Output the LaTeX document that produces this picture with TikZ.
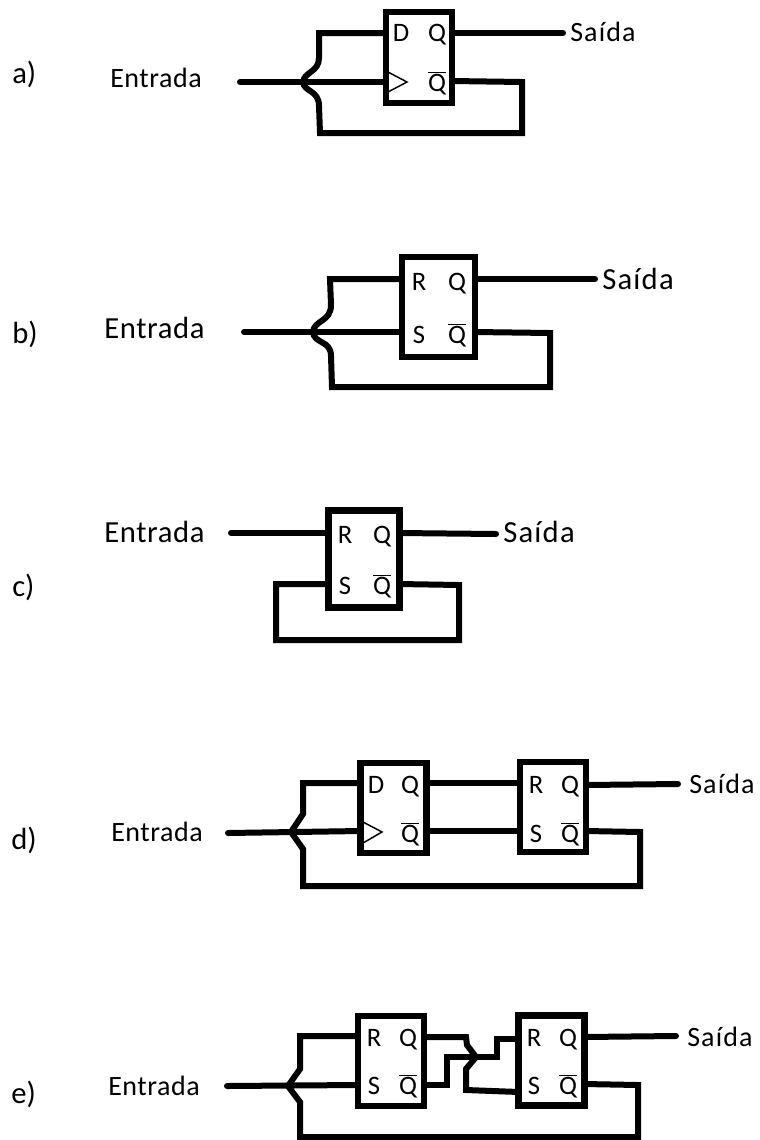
\documentclass[tikz,border=0pt]{standalone}
\usepackage{fontspec}
\setmainfont{Carlito}
\newfontfamily\spaced[LetterSpace=4]{Carlito}
\newfontfamily\slight[LetterSpace=2]{Carlito}
\tikzset{
  x=0.75pt,y=-0.75pt,
  wire/.style={draw=black,line width=4.5pt,line cap=round,line join=miter},
  ff/.style={draw=black,line width=5pt,fill=white,inner sep=0pt,minimum width=#1*0.75pt,minimum height=94*0.75pt},
  ff/.default=68,
  clk/.style={draw=black,line width=1.1pt,line join=miter},
  pinlab/.style={anchor=base,inner sep=0pt,font=\fontsize{20pt}{22pt}\selectfont},
  tag/.style={anchor=base west,inner sep=0pt,font=\fontsize{23pt}{26pt}\selectfont},
  lab/.style={anchor=base west,inner sep=0pt,font=\fontsize{21pt}{24pt}\selectfont\slight},
  labb/.style={anchor=base west,inner sep=0pt,font=\fontsize{23pt}{26pt}\selectfont\slight},
  outlab/.style={anchor=base west,inner sep=0pt,font=\fontsize{21pt}{24pt}\selectfont\spaced},
  outlabb/.style={anchor=base west,inner sep=0pt,font=\fontsize{23pt}{26pt}\selectfont\spaced},
}
\newcommand{\qbar}{$\overline{\hbox{Q}}$}
\begin{document}
\begin{tikzpicture}
\useasboundingbox (0,0) rectangle (760,1140);
% ---------- a
\coordinate (a-in) at (240,82);
\coordinate (a-o) at (563,33);
\coordinate (a-d) at (386,33);
\coordinate (a-c) at (386,82);
\coordinate (a-q) at (452,33);
\coordinate (a-n) at (452,81);
\draw[wire] (a-in) -- (a-c);
\draw[wire] (a-q) -- (a-o);
\draw[wire] (a-d) -- (319,33) -- (319,58) .. controls (319,72) and (304,72) .. (303,82) .. controls (304,92) and (319,90) .. (319,106) -- (320,133) -- (522,133) -- (522,82) -- (a-n);
\node[ff=66,minimum height=91*0.75pt] (a-box) at (419,57.5) {};
\draw[clk] (388,72) -- (407,82) -- (388,92);
\node[pinlab] (a-D) at (401,41.5) {D};
\node[pinlab] (a-Q) at (437,41.5) {Q};
\node[pinlab] (a-N) at (437,91) {\qbar};
\node[tag] (a-l) at (12,83) {a)};
\node[lab] (a-e) at (110,87) {Entrada};
\node[outlab] (a-s) at (570,41) {Saída};
% ---------- b
\coordinate (b-in) at (244,332);
\coordinate (b-o) at (595,279);
\coordinate (b-r) at (402,279);
\coordinate (b-s) at (402,332);
\coordinate (b-q) at (475,279);
\coordinate (b-n) at (475,332);
\draw[wire] (b-in) -- (b-s);
\draw[wire] (b-q) -- (b-o);
\draw[wire] (b-r) -- (330,279) -- (331,305) .. controls (331,322) and (314,320) .. (313,332) .. controls (314,344) and (331,340) .. (331,356) -- (332,387) -- (550,387) -- (550,333) -- (b-n);
\node[ff=73,minimum height=100*0.75pt] (b-box) at (438.5,307) {};
\node[pinlab] (b-R) at (419,290) {R};
\node[pinlab] (b-Q) at (457,290) {Q};
\node[pinlab] (b-S) at (419,343) {S};
\node[pinlab] (b-N) at (457,343) {\qbar};
\node[tag] (b-l) at (12,343) {b)};
\node[labb] (b-e) at (104,338) {Entrada};
\node[outlabb] (b-t) at (602,289) {Saída};
% ---------- c
\coordinate (c-in) at (231,533);
\coordinate (c-o) at (496,534);
\coordinate (c-r) at (329,533);
\coordinate (c-s) at (329,584);
\coordinate (c-q) at (399,533);
\coordinate (c-n) at (399,584);
\draw[wire] (c-in) -- (c-r);
\draw[wire] (c-q) -- (c-o);
\draw[wire] (c-s) -- (279,584) -- (276,584) -- (276,640) -- (459,640) -- (459,585) -- (c-n);
\node[ff=71,minimum height=97*0.75pt] (c-box) at (364,559) {};
\node[pinlab] (c-R) at (345,543) {R};
\node[pinlab] (c-Q) at (382,543) {Q};
\node[pinlab] (c-S) at (345,594) {S};
\node[pinlab] (c-N) at (382,594) {\qbar};
\node[tag] (c-l) at (12,596) {c)};
\node[labb] (c-e) at (104,542) {Entrada};
\node[outlabb] (c-t) at (503,542) {Saída};
% ---------- d
\coordinate (d-in) at (228,833);
\coordinate (d-o) at (678,784);
\coordinate (d-d) at (361,783);
\coordinate (d-c) at (361,831);
\coordinate (d-q) at (426,783);
\coordinate (d-n) at (426,831);
\coordinate (d-r) at (520,783);
\coordinate (d-s) at (520,831);
\coordinate (d-p) at (586,785);
\coordinate (d-m) at (586,831);
\draw[wire] (d-in) -- (d-c);
\draw[wire] (d-q) -- (d-r);
\draw[wire] (d-n) -- (d-s);
\draw[wire] (d-p) -- (d-o);
\draw[wire] (d-d) -- (303,783) -- (303,814) -- (291,832) -- (303,849) -- (303,886) -- (640,886) -- (640,832) -- (d-m);
\node[ff=66,minimum height=90*0.75pt] (d-box1) at (393.5,808) {};
\node[ff=66,minimum height=90*0.75pt] (d-box2) at (553,807) {};
\draw[clk] (363,822) -- (382,832) -- (363,843);
\node[pinlab] (d-D) at (376,793) {D};
\node[pinlab] (d-Q) at (410,793) {Q};
\node[pinlab] (d-N) at (410,842) {\qbar};
\node[pinlab] (d-R) at (536,793) {R};
\node[pinlab] (d-P) at (570,793) {Q};
\node[pinlab] (d-S) at (536,842) {S};
\node[pinlab] (d-M) at (570,842) {\qbar};
\node[tag] (d-l) at (11,849) {d)};
\node[lab] (d-e) at (111,841) {Entrada};
\node[outlab] (d-t) at (689,793) {Saída};
% ---------- e
\coordinate (e-in) at (227,1086);
\coordinate (e-o) at (676,1036);
\coordinate (e-a) at (358,1036);
\coordinate (e-b) at (358,1085);
\coordinate (e-q) at (424,1037);
\coordinate (e-n) at (424,1085);
\coordinate (e-r) at (519,1039);
\coordinate (e-s) at (519,1092);
\coordinate (e-p) at (584,1037);
\coordinate (e-m) at (584,1084);
\draw[wire] (e-in) -- (e-b);
\draw[wire] (e-p) -- (e-o);
\draw[wire] (e-a) -- (300,1036) -- (300,1069) -- (288,1086) -- (300,1102) -- (300,1137) -- (638,1137) -- (638,1085) -- (e-m);
\draw[wire] (e-q) -- (466,1037) -- (467,1045) -- (476,1057) -- (466,1069) -- (466,1090) -- (e-s);
\draw[wire] (e-n) -- (447,1085) -- (447,1057) -- (497,1057) -- (497,1039) -- (e-r);
\node[ff=66,minimum height=90*0.75pt] (e-box1) at (391,1061) {};
\node[ff=66,minimum height=90*0.75pt] (e-box2) at (551.5,1060.5) {};
\node[pinlab] (e-R1) at (374,1046) {R};
\node[pinlab] (e-Q1) at (408,1046) {Q};
\node[pinlab] (e-S1) at (374,1094) {S};
\node[pinlab] (e-N1) at (408,1094) {\qbar};
\node[pinlab] (e-R2) at (534,1046) {R};
\node[pinlab] (e-Q2) at (568,1046) {Q};
\node[pinlab] (e-S2) at (534,1094) {S};
\node[pinlab] (e-N2) at (568,1094) {\qbar};
\node[tag] (e-l) at (11,1103) {e)};
\node[lab] (e-e) at (108,1095) {Entrada};
\node[outlab] (e-t) at (687,1046) {Saída};
\end{tikzpicture}
\end{document}
